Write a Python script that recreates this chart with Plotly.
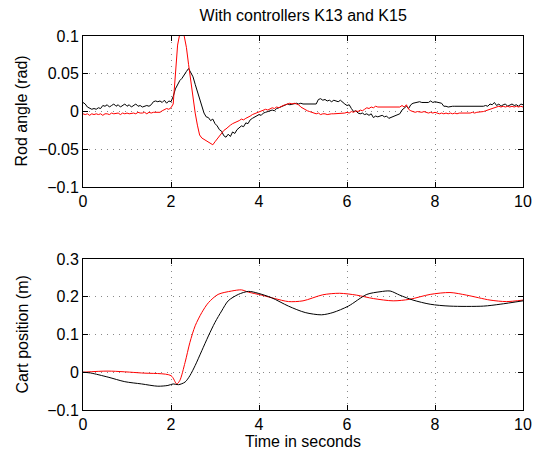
import plotly.graph_objects as go

# ---- data: rod angle, sampled every 0.05 s ----
t_rod = [round(i * 0.05, 2) for i in range(201)]

rod_black = [
    0.012, 0.010, 0.006, 0.004, 0.003, 0.004, 0.003, 0.005, 0.004, 0.008,
    0.007, 0.009, 0.006, 0.008, 0.010, 0.007, 0.009, 0.006, 0.008, 0.010,
    0.007, 0.009, 0.006, 0.008, 0.010, 0.007, 0.008, 0.006, 0.007, 0.008,
    0.007, 0.009, 0.013, 0.014, 0.013, 0.014, 0.012, 0.015, 0.011, 0.014,
    0.013, 0.020, 0.030, 0.036, 0.041, 0.044, 0.049, 0.053, 0.057, 0.052,
    0.046, 0.036, 0.026, 0.015, 0.006, -0.002, -0.007, -0.008, -0.012, -0.010,
    -0.016, -0.019, -0.024, -0.026, -0.032, -0.034, -0.030, -0.033, -0.027, -0.029,
    -0.024, -0.022, -0.019, -0.020, -0.015, -0.016, -0.011, -0.009, -0.007, -0.006,
    -0.004, -0.005, -0.002, -0.001, 0.000, 0.001, 0.002, 0.001, 0.004, 0.005,
    0.006, 0.008, 0.009, 0.010, 0.009, 0.010, 0.010, 0.011, 0.010, 0.011,
    0.010, 0.010, 0.011, 0.010, 0.010, 0.011, 0.010, 0.016, 0.017, 0.015,
    0.016, 0.014, 0.015, 0.013, 0.015, 0.014, 0.013, 0.015, 0.012, 0.010,
    0.008, 0.009, 0.004, 0.000, 0.001, -0.002, -0.003, -0.002, -0.004, -0.003,
    -0.005, -0.003, -0.008, -0.006, -0.007, -0.006, -0.005, -0.007, -0.006, -0.009,
    -0.008, -0.006, -0.005, -0.004, -0.003, 0.002, 0.004, 0.007, 0.004, 0.009,
    0.011, 0.012, 0.012, 0.013, 0.012, 0.012, 0.013, 0.012, 0.014, 0.012,
    0.013, 0.012, 0.012, 0.011, 0.007, 0.007, 0.006, 0.007, 0.007, 0.007,
    0.007, 0.007, 0.007, 0.007, 0.007, 0.007, 0.007, 0.007, 0.007, 0.007,
    0.007, 0.007, 0.007, 0.008, 0.007, 0.010, 0.009, 0.012, 0.008, 0.010,
    0.007, 0.009, 0.010, 0.007, 0.009, 0.010, 0.008, 0.009, 0.007, 0.010,
    0.009,
]

rod_red = [
    -0.003, -0.004, -0.003, -0.005, -0.003, -0.004, -0.003, -0.004, -0.003, -0.005,
    -0.003, -0.003, -0.004, -0.002, -0.003, -0.003, -0.002, -0.004, -0.002, -0.003,
    -0.002, -0.003, -0.002, -0.002, -0.003, -0.001, -0.002, -0.002, -0.001, -0.003,
    -0.001, -0.002, -0.001, -0.001, 0.000, -0.001, 0.001, 0.002, 0.004, 0.003,
    0.005, 0.010, 0.050, 0.088, 0.103, 0.105, 0.100, 0.085, 0.062, 0.040,
    0.018, -0.002, -0.018, -0.031, -0.035, -0.037, -0.038, -0.040, -0.043, -0.044,
    -0.040, -0.036, -0.032, -0.028, -0.025, -0.023, -0.020, -0.018, -0.016, -0.015,
    -0.013, -0.012, -0.010, -0.011, -0.009, -0.008, -0.006, -0.004, -0.003, -0.001,
    0.000, 0.001, 0.001, 0.003, 0.002, 0.004, 0.005, 0.004, 0.006, 0.005,
    0.007, 0.008, 0.009, 0.010, 0.011, 0.010, 0.011, 0.010, 0.009, 0.006,
    0.004, 0.002, 0.001, 0.000, -0.001, -0.002, -0.003, -0.002, -0.004, -0.003,
    -0.003, -0.004, -0.003, -0.003, -0.003, -0.003, -0.003, -0.003, -0.003, -0.002,
    -0.001, -0.002, 0.000, -0.001, 0.001, 0.000, 0.002, 0.001, 0.003, 0.005,
    0.004, 0.006, 0.005, 0.007, 0.006, 0.006, 0.006, 0.006, 0.006, 0.006,
    0.006, 0.006, 0.006, 0.006, 0.006, 0.008, 0.006, 0.009, 0.003, 0.001,
    0.000, -0.001, 0.000, -0.001, -0.001, 0.000, -0.001, -0.002, -0.001, -0.002,
    -0.001, -0.002, -0.003, -0.002, -0.003, -0.002, -0.003, -0.002, -0.003, -0.002,
    -0.003, -0.002, -0.002, -0.003, -0.002, -0.002, -0.002, -0.001, -0.002, -0.001,
    -0.001, 0.000, 0.000, 0.001, 0.002, 0.003, 0.004, 0.005, 0.006, 0.007,
    0.006, 0.007, 0.006, 0.007, 0.006, 0.007, 0.006, 0.007, 0.006, 0.007,
    0.006,
]

# ---- data: cart position ----
t_cart_black = [0, 0.17, 0.57, 0.95, 1.33, 1.7, 1.93, 2.05, 2.17, 2.32, 2.43, 2.55,
                2.7, 2.85, 3.0, 3.15, 3.3, 3.53, 3.76, 3.98, 4.29, 4.67, 5.05,
                5.42, 5.68, 6.03, 6.45, 6.75, 6.98, 7.2, 7.5, 7.89, 8.34, 9.1,
                9.48, 10.0]
cart_black = [0.0, -0.002, -0.013, -0.025, -0.031, -0.037, -0.035, -0.031, -0.033,
              -0.026, -0.009, 0.018, 0.057, 0.096, 0.132, 0.162, 0.189, 0.206,
              0.214, 0.209, 0.197, 0.175, 0.158, 0.152, 0.158, 0.175, 0.206,
              0.213, 0.215, 0.204, 0.191, 0.180, 0.175, 0.175, 0.180, 0.189]

t_cart_red = [0, 0.57, 1.33, 2.0, 2.13, 2.2, 2.32, 2.43, 2.55, 2.7, 2.85, 3.07,
              3.38, 3.6, 3.76, 4.06, 4.36, 4.67, 5.0, 5.45, 5.83, 6.22, 6.6,
              7.05, 7.42, 7.89, 8.34, 8.72, 9.25, 9.62, 10.0]
cart_red = [0.0, 0.003, -0.002, -0.009, -0.031, -0.022, 0.026, 0.079, 0.123, 0.158,
            0.184, 0.206, 0.215, 0.218, 0.212, 0.204, 0.195, 0.187, 0.189, 0.205,
            0.209, 0.204, 0.195, 0.189, 0.193, 0.206, 0.211, 0.204, 0.191, 0.187,
            0.191]

x_ticks = [0, 2, 4, 6, 8, 10]
rod_ticks = [-0.1, -0.05, 0, 0.05, 0.1]
rod_tick_text = ["\u22120.1", "\u22120.05", "0", "0.05", "0.1"]
cart_ticks = [-0.1, 0, 0.1, 0.2, 0.3]
cart_tick_text = ["\u22120.1", "0", "0.1", "0.2", "0.3"]

FONT = "Liberation Sans, Arial, Helvetica, sans-serif"
FS = 16

fig = go.Figure()
fig.add_trace(go.Scatter(x=t_rod, y=rod_black, mode="lines",
                         line=dict(color="black", width=1), xaxis="x", yaxis="y"))
fig.add_trace(go.Scatter(x=t_rod, y=rod_red, mode="lines",
                         line=dict(color="red", width=1), xaxis="x", yaxis="y"))
fig.add_trace(go.Scatter(x=t_cart_red, y=cart_red, mode="lines",
                         line=dict(color="red", width=1, shape="spline", smoothing=0.8),
                         xaxis="x2", yaxis="y2"))
fig.add_trace(go.Scatter(x=t_cart_black, y=cart_black, mode="lines",
                         line=dict(color="black", width=1, shape="spline", smoothing=0.8),
                         xaxis="x2", yaxis="y2"))

axis_common = dict(
    showline=True, linecolor="black", linewidth=1, mirror="ticks",
    ticks="inside", ticklen=5, tickcolor="black", tickwidth=1,
    showgrid=True, gridcolor="#888", gridwidth=1, griddash="1px,5px",
    zeroline=False, automargin=False,
    tickfont=dict(family=FONT, size=FS, color="black"),
)

fig.update_layout(
    template="none",
    width=539, height=455,
    margin=dict(l=83, r=16, t=36, b=45, autoexpand=False),
    paper_bgcolor="white", plot_bgcolor="white",
    showlegend=False,
    font=dict(family=FONT, size=FS, color="black"),
    title=dict(text="With controllers K13 and K15", x=0.5625, xanchor="center",
               xref="container", y=1 - 15 / 455, yanchor="middle", yref="container",
               font=dict(family=FONT, size=FS, color="black")),
    xaxis=dict(domain=[0, 1], anchor="y", range=[0, 10], tickvals=x_ticks, **axis_common),
    yaxis=dict(domain=[0.596, 1], anchor="x", range=[-0.1, 0.1], tickvals=rod_ticks,
               ticktext=rod_tick_text, **axis_common),
    xaxis2=dict(domain=[0, 1], anchor="y2", range=[0, 10], tickvals=x_ticks, **axis_common),
    yaxis2=dict(domain=[0, 0.404], anchor="x2", range=[-0.1, 0.3], tickvals=cart_ticks,
                ticktext=cart_tick_text, **axis_common),
    annotations=[
        dict(text="Rod angle (rad)", textangle=-90, xref="paper", yref="paper",
             x=-0.1386, y=0.798, xanchor="center", yanchor="middle", showarrow=False,
             font=dict(family=FONT, size=FS, color="black")),
        dict(text="Cart position (m)", textangle=-90, xref="paper", yref="paper",
             x=-0.1386, y=0.202, xanchor="center", yanchor="middle", showarrow=False,
             font=dict(family=FONT, size=FS, color="black")),
        dict(text="Time in seconds", xref="paper", yref="paper",
             x=0.5, y=-0.083, xanchor="center", yanchor="middle", showarrow=False,
             font=dict(family=FONT, size=FS, color="black")),
    ],
)

fig.write_html("out.html", config={"displayModeBar": False},
               post_script="document.body.style.margin='0';document.body.style.overflow='hidden';")
